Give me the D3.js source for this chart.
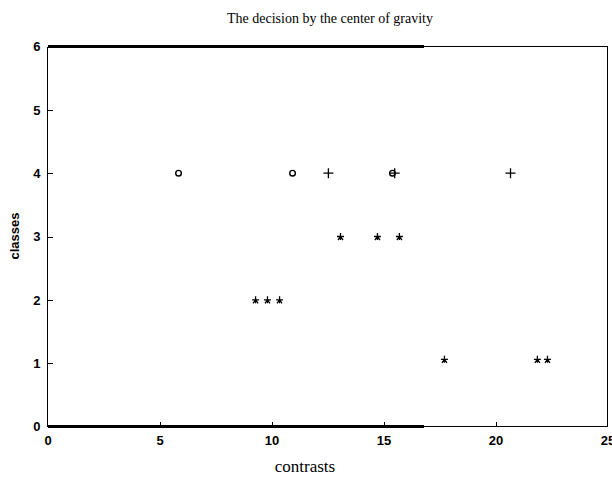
<!DOCTYPE html>
<html><head><meta charset="utf-8">
<script src="https://cdn.jsdelivr.net/npm/d3@7"></script>
<style>body{margin:0;background:#fff}svg{display:block}</style>
</head><body>
<svg id="c" width="612" height="477"></svg>
<script>
// Data
const circlePts = [[5.85,4],[10.94,4],[15.4,4]];
const plusPts = [[12.54,4],[15.5,4],[20.67,4]];
const starPts = [[13.08,3],[14.73,3],[15.71,3],[9.29,2],[9.82,2],[10.36,2],[17.72,1.06],[21.87,1.06],[22.32,1.06]];
const xTicks = [0,5,10,15,20,25];
const yTicks = [0,1,2,3,4,5,6];
const titleText = "The decision by the center of gravity";
const xLabel = "contrasts";
const yLabel = "classes";

const svg = d3.select("#c");
const x = d3.scaleLinear().domain([0,25]).range([47.5,607.5]);
const y = d3.scaleLinear().domain([0,6]).range([426.5,46.5]);

// frame lines
const frame = svg.append("g").attr("stroke","#000").attr("shape-rendering","crispEdges");
frame.append("line").attr("x1",x(0)).attr("x2",x(25)).attr("y1",y(0)).attr("y2",y(0)).attr("stroke-width",1.5);
frame.append("line").attr("x1",x(0)).attr("x2",x(25)).attr("y1",y(6)).attr("y2",y(6)).attr("stroke-width",1.5);
frame.append("line").attr("x1",x(0)).attr("x2",x(16.8)).attr("y1",y(0)).attr("y2",y(0)).attr("stroke-width",3);
frame.append("line").attr("x1",x(0)).attr("x2",x(16.8)).attr("y1",y(6)).attr("y2",y(6)).attr("stroke-width",3);
frame.append("line").attr("x1",x(0)).attr("x2",x(0)).attr("y1",y(0)).attr("y2",y(6)).attr("stroke-width",1.5);
frame.append("line").attr("x1",x(25)).attr("x2",x(25)).attr("y1",y(0)).attr("y2",y(6)).attr("stroke-width",1.5);

// axes
const xAxis = d3.axisBottom(x).tickValues(xTicks).tickSize(-5).tickPadding(9).tickFormat(d3.format("d"));
const gx = svg.append("g").attr("transform",`translate(0,${y(0)})`).call(xAxis);
const yAxis = d3.axisLeft(y).tickValues(yTicks).tickSize(-5).tickPadding(7).tickFormat(d3.format("d"));
const gy = svg.append("g").attr("transform",`translate(${x(0)},0)`).call(yAxis);
[gx,gy].forEach(g=>{
  g.attr("font-family",null).attr("font-size",null);
  g.select(".domain").remove();
  g.selectAll(".tick line").attr("stroke","#000").attr("stroke-width",1).attr("shape-rendering","crispEdges");
  g.selectAll("text").attr("font-family","'Liberation Sans', Arial, sans-serif")
    .attr("font-size",13).attr("font-weight","bold").attr("fill","#000");
});
gx.selectAll(".tick").filter(d=>d===0||d===25).select("line").remove();
gy.selectAll(".tick").filter(d=>d===0||d===6).select("line").remove();

// markers
const g = svg.append("g");
g.selectAll("circle.o").data(circlePts).join("circle").attr("class","o")
  .attr("cx",d=>x(d[0])).attr("cy",d=>y(d[1])).attr("r",2.8)
  .attr("fill","none").attr("stroke","#000").attr("stroke-width",1.4);
g.selectAll("path.p").data(plusPts).join("path").attr("class","p")
  .attr("d",d=>{const cx=x(d[0]),cy=y(d[1]);return `M${cx-5},${cy}H${cx+5}M${cx},${cy-5}V${cy+5}`;})
  .attr("stroke","#000").attr("stroke-width",1.3).attr("fill","none");
g.selectAll("path.s").data(starPts).join("path").attr("class","s")
  .attr("d",d=>{const cx=x(d[0]),cy=y(d[1]);return `M${cx-3.5},${cy}H${cx+3.5}M${cx},${cy-3.5}V${cy+3.5}M${cx-2.5},${cy+3.5}L${cx},${cy}L${cx+2.5},${cy+3.5}`;})
  .attr("stroke","#000").attr("stroke-width",1.3).attr("fill","none");

// titles
const serif = "'Liberation Serif', 'DejaVu Serif', 'Times New Roman', serif";
svg.append("text").attr("x",330).attr("y",23).attr("text-anchor","middle")
  .attr("font-family",serif).attr("font-size",14).text(titleText);
svg.append("text").attr("x",305).attr("y",472).attr("text-anchor","middle")
  .attr("font-family",serif).attr("font-size",17).text(xLabel);
svg.append("text").attr("transform","translate(19,236) rotate(-90)").attr("text-anchor","middle")
  .attr("font-family","'Liberation Sans', Arial, sans-serif").attr("font-size",13).attr("font-weight","bold").text(yLabel);
</script>
</body></html>
